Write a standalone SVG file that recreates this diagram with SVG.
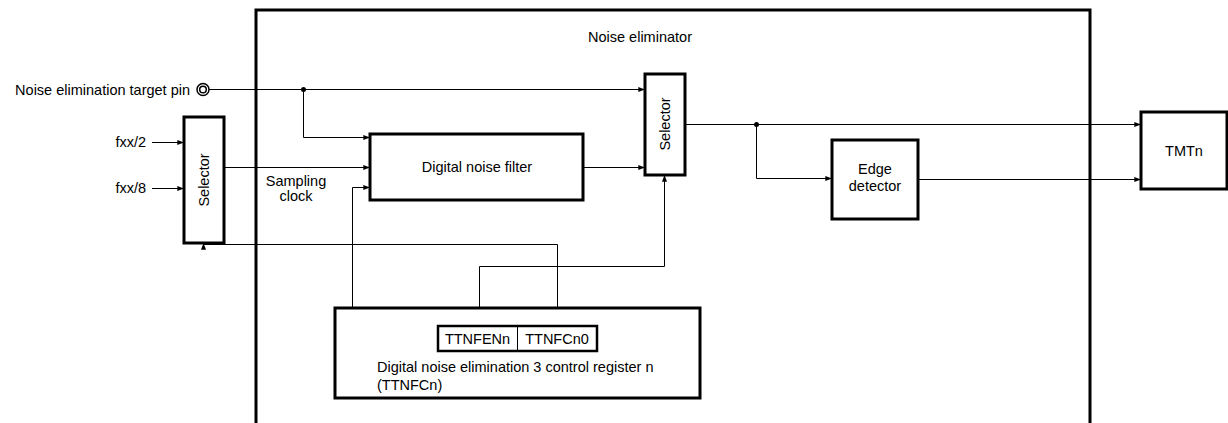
<svg xmlns="http://www.w3.org/2000/svg" width="1228" height="423" viewBox="0 0 1228 423">
<defs>
<marker id="ah" viewBox="0 0 8 6" refX="8" refY="3" markerWidth="8" markerHeight="5" markerUnits="userSpaceOnUse" orient="auto">
<path d="M0,0 L8,3 L0,6 z" fill="#000"/>
</marker>
<style>
text{font-family:"Liberation Sans",Arial,sans-serif;font-size:14.5px;fill:#000}
.box{fill:#fff;stroke:#000;stroke-width:3}
.thin{fill:none;stroke:#000;stroke-width:1}
.c{text-anchor:middle}
.arr{marker-end:url(#ah)}
</style>
</defs>
<rect width="1228" height="423" fill="#fff"/>
<g id="noise-eliminator">
<path d="M256,430 V10 H1090 V430" fill="none" stroke="#000" stroke-width="3"/>
<text x="640" y="42" class="c">Noise eliminator</text>
</g>
<g id="connectors">
<path class="thin arr" d="M209,89.5 H645"/>
<path class="thin arr" d="M303.5,89.5 V137.5 H370"/>
<path class="thin arr" d="M224,167.5 H370"/>
<path class="thin arr" d="M583,167.5 H645"/>
<path class="thin arr" d="M352.5,308 V187.5 H370"/>
<path class="thin arr" d="M479.5,326 V266.5 H664.5 V175"/>
<path class="thin arr" d="M557.5,326 V244.5 H203.5 V243"/>
<path class="thin arr" d="M685,124.5 H1141"/>
<path class="thin arr" d="M756.5,124.5 V178.5 H832"/>
<path class="thin arr" d="M918,179.5 H1141"/>
<path class="thin arr" d="M152,142.5 H184"/>
<path class="thin arr" d="M152,188.5 H184"/>
<circle cx="303.5" cy="89.5" r="2.5" fill="#000"/>
<circle cx="756.5" cy="124.5" r="2.5" fill="#000"/>
</g>
<g id="pin">
<circle cx="203" cy="89.5" r="6" fill="#fff" stroke="#000" stroke-width="1.5"/>
<circle cx="203" cy="89.5" r="3.3" fill="#fff" stroke="#000" stroke-width="1.5"/>
<text x="190" y="94.5" text-anchor="end">Noise elimination target pin</text>
</g>
<g id="clock-inputs">
<text x="146" y="147" text-anchor="end">fxx/2</text>
<text x="146" y="193" text-anchor="end">fxx/8</text>
</g>
<g id="selector1">
<rect class="box" x="184" y="117" width="40" height="126"/>
<text class="c" transform="translate(209,180) rotate(-90)">Selector</text>
</g>
<g id="sampling-clock-label">
<text x="296" y="186" class="c">Sampling</text>
<text x="296" y="201" class="c">clock</text>
</g>
<g id="digital-noise-filter">
<rect class="box" x="370" y="134" width="213" height="66"/>
<text x="477" y="172" class="c">Digital noise filter</text>
</g>
<g id="selector2">
<rect class="box" x="645" y="74" width="40" height="101"/>
<text class="c" transform="translate(670,124) rotate(-90)">Selector</text>
</g>
<g id="edge-detector">
<rect class="box" x="832" y="140" width="86" height="79"/>
<text x="875" y="174" class="c">Edge</text>
<text x="875" y="191" class="c">detector</text>
</g>
<g id="tmtn">
<rect class="box" x="1141" y="112" width="86" height="77"/>
<text x="1184" y="156" class="c">TMTn</text>
</g>
<g id="register">
<rect class="box" x="335" y="308" width="365" height="90"/>
<rect x="438" y="326" width="159" height="25" fill="#fff" stroke="#000" stroke-width="2.5"/>
<line x1="517.5" y1="326" x2="517.5" y2="351" stroke="#000" stroke-width="1"/>
<text x="477.5" y="343.5" class="c">TTNFENn</text>
<text x="557" y="343.5" class="c">TTNFCn0</text>
<text x="377" y="372">Digital noise elimination 3 control register n</text>
<text x="377" y="390">(TTNFCn)</text>
</g>
</svg>
